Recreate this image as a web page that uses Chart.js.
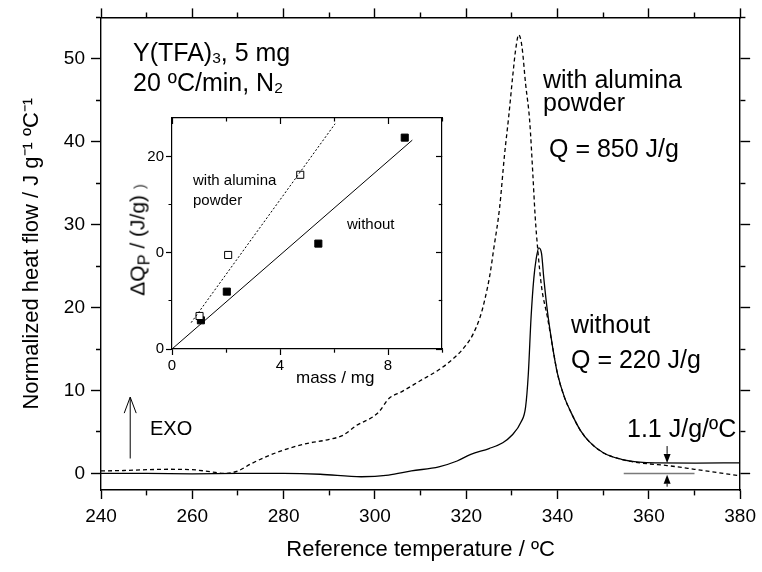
<!DOCTYPE html>
<html>
<head>
<meta charset="utf-8">
<script src="https://cdn.jsdelivr.net/npm/chart.js@4.4.1/dist/chart.umd.min.js"></script>
<style>
  html, body { margin: 0; padding: 0; background: #fff; }
  #wrap { position: relative; width: 762px; height: 572px; overflow: hidden;
          font-family: Arial, "Liberation Sans", Helvetica, sans-serif; color: #000; }
  #wrap canvas { position: absolute; }
  .note { position: absolute; white-space: nowrap; line-height: 1; font-size: 25px; }
  .small { font-size: 15px; }
  .note sub { font-size: 0.62em; vertical-align: -0.12em; line-height: 0; }
  #insetTitle { position: absolute; left: 137px; top: 240px; font-size: 21px; line-height: 1;
                white-space: nowrap; transform: translate(-50%, -50%) rotate(-90deg); }
  #insetTitle sub { font-size: 0.78em; vertical-align: -0.3em; line-height: 0; }
  #insetTitle .tail { font-size: 0.7em; color: #333; }
</style>
</head>
<body>
<div id="wrap">
  <canvas id="mainChart" width="762" height="572" style="left:0;top:0"></canvas>
  <canvas id="insetChart" width="345" height="290" style="left:110px;top:105px"></canvas>

  <div class="note" style="left:133px;top:40px">Y(TFA)<sub>3</sub>, 5 mg</div>
  <div class="note" style="left:133px;top:70px">20 ºC/min, N<sub>2</sub></div>
  <div class="note" style="left:543px;top:67px">with alumina</div>
  <div class="note" style="left:543px;top:90px">powder</div>
  <div class="note" style="left:549px;top:136px">Q = 850 J/g</div>
  <div class="note" style="left:571px;top:312px">without</div>
  <div class="note" style="left:571px;top:347px">Q = 220 J/g</div>
  <div class="note" style="left:627px;top:416px">1.1 J/g/ºC</div>
  <div class="note" style="left:150px;top:418px;font-size:20px">EXO</div>

  <div class="note small" style="left:193px;top:172px">with alumina</div>
  <div class="note small" style="left:193px;top:192px">powder</div>
  <div class="note small" style="left:347px;top:216px">without</div>
  <div class="note" style="left:296px;top:369px;font-size:17px">mass / mg</div>
  <div id="insetTitle">ΔQ<sub>P</sub> / (J/g) <span class="tail">)</span></div>
</div>

<script>
const FONT = 'Arial, "Liberation Sans", Helvetica, sans-serif';

// main DSC curves
const plainTemp = [240, 250, 260, 270, 280, 288, 297, 303, 308, 314, 318, 321, 325, 328, 330, 332,
  333, 333.6, 334.2, 334.8, 335.3, 335.9, 336.5, 337, 337.8, 339, 340, 341.5, 343, 345, 347, 350,
  354, 358, 362, 370, 380];
const plainFlow = [0, 0, -0.05, 0, 0, -0.1, -0.4, -0.2, 0.3, 0.8, 1.5, 2.3, 3.0, 3.7, 4.6, 6.2,
  8.0, 12, 18.8, 23.5, 25.8, 27.2, 26.5, 23.5, 19.5, 15.0, 12.0, 9.2, 7.3, 5.2, 3.8, 2.5,
  1.7, 1.35, 1.27, 1.25, 1.27];

const aluminaTemp = [240, 245, 250, 255, 260, 264, 267, 270, 273, 277, 281, 285, 290, 293, 296,
  299.5, 301, 303, 306, 310, 314, 317.5, 320, 321.5, 323, 324, 325.2, 326, 327.3, 328.4, 329.3,
  330.2, 330.8, 331.5, 332.2, 333, 333.9, 334.6, 335.1, 335.7, 336.5, 337.8, 339, 340, 341.5,
  343, 345, 347, 350, 354, 357, 360, 364, 370, 375, 380];
const aluminaFlow = [0.3, 0.35, 0.45, 0.5, 0.45, 0.2, 0, 0.3, 1.2, 2.2, 3.0, 3.6, 4.1, 4.6, 5.8,
  6.8, 7.5, 9.0, 9.9, 11.2, 12.5, 14.0, 15.5, 16.8, 18.8, 20.8, 24, 27, 32, 38.5, 43,
  48, 51, 52.9, 51.5, 47, 42.5, 36, 31, 26.8, 22.5, 18.8, 15.0, 12.0, 9.2,
  7.3, 5.2, 3.8, 2.5, 1.7, 1.35, 1.15, 0.95, 0.5, 0.1, -0.3];

const xMajor = [240, 260, 280, 300, 320, 340, 360, 380];
const xMinor = [250, 270, 290, 310, 330, 350, 370];
const yMajor = [0, 10, 20, 30, 40, 50];
const yMinor = [5, 15, 25, 35, 45, 55];

// inset: peak enthalpy change against sample mass
const massAlumina = [1.02, 2.08, 4.75];
const dqAlumina = [3.43, 9.77, 18.1];
const massPlain = [1.07, 2.03, 5.42, 8.62];
const dqPlain = [2.98, 5.96, 10.95, 21.96];
const fitPlainMass = [0, 8.9];
const fitPlainDq = [0, 21.7];
const fitAluminaMass = [0.71, 6.04];
const fitAluminaDq = [2.74, 23.4];

const insetXMajor = [0, 4, 8];
const insetXMinor = [2, 6, 10];
const insetYMajor = [0, 10, 20];
const insetYMajorLabels = ['0', '0', '20'];
const insetYMinor = [5, 15];

// annotation marks in data units
const zeroSegment = [354.5, 370];
const stepArrowTemp = 364;
const exoArrow = { temp: 246.4, from: 1.8, to: 9.2 };

const pts = (xs, ys) => xs.map((x, i) => ({ x, y: ys[i] }));

// Chart.js draws a tick starting at its tip for left/top axes and at the border for bottom/right,
// so short minor ticks are made with a dash pattern
function minorDash(position, len, minorLen, major) {
  const tipFirst = position === 'left' || position === 'top';
  const gap = Math.abs(len) - minorLen;
  return ctx => major.includes(ctx.tick.value) ? [] : (tipFirst ? [0, gap, minorLen, 100] : [minorLen, 100]);
}

function axis(position, min, max, major, minor, len, minorLen, size, labels, fontSize, pad, lw) {
  const values = major.concat(minor).sort((a, b) => a - b);
  const horizontal = position === 'top' || position === 'bottom';
  return {
    type: 'linear', position, min, max,
    afterBuildTicks: s => { s.ticks = values.map(v => ({ value: v })); },
    afterFit: s => { if (horizontal) s.height = size; else s.width = size; },
    border: { display: true, color: '#000', width: lw },
    grid: {
      drawOnChartArea: false, drawTicks: true, tickLength: len, tickWidth: lw,
      tickColor: '#000', color: '#000', tickBorderDash: minorDash(position, len, minorLen, major)
    },
    ticks: labels ? {
      display: true, autoSkip: false, maxRotation: 0, color: '#000', padding: pad,
      font: { family: FONT, size: fontSize },
      callback: v => { const i = major.indexOf(v); return i < 0 ? '' : labels[i]; }
    } : { display: false }
  };
}

function drawArrow(ctx, x, yFrom, yTip, len, half, filled) {
  const dir = Math.sign(yTip - yFrom);
  ctx.beginPath();
  ctx.moveTo(x, yFrom);
  ctx.lineTo(x, filled ? yTip - dir * len : yTip);
  ctx.stroke();
  ctx.beginPath();
  ctx.moveTo(x - half, yTip - dir * len);
  ctx.lineTo(x, yTip);
  ctx.lineTo(x + half, yTip - dir * len);
  if (filled) { ctx.closePath(); ctx.fill(); } else ctx.stroke();
}

const markers = {
  id: 'markers',
  afterDatasetsDraw(chart) {
    const { ctx, scales: { x, y } } = chart;
    ctx.save();
    ctx.strokeStyle = '#7a7a7a';
    ctx.lineWidth = 1.5;
    ctx.beginPath();
    ctx.moveTo(x.getPixelForValue(zeroSegment[0]), y.getPixelForValue(0));
    ctx.lineTo(x.getPixelForValue(zeroSegment[1]), y.getPixelForValue(0));
    ctx.stroke();

    ctx.strokeStyle = '#000';
    ctx.fillStyle = '#000';
    ctx.lineWidth = 1;
    const ax = x.getPixelForValue(stepArrowTemp);
    drawArrow(ctx, ax, y.getPixelForValue(3.3), y.getPixelForValue(1.27), 9, 3.5, true);
    drawArrow(ctx, ax, y.getPixelForValue(-1.6), y.getPixelForValue(-0.15), 9, 3.5, true);

    drawArrow(ctx, x.getPixelForValue(exoArrow.temp), y.getPixelForValue(exoArrow.from),
      y.getPixelForValue(exoArrow.to), 16, 6, false);
    ctx.restore();
  }
};

const xLabels = xMajor.map(String);
const yLabels = yMajor.map(String);

const mainScales = {
  x: axis('bottom', 240, 380, xMajor, xMinor, 9, 5, 82, xLabels, 19, 6, 1.4),
  x2: axis('top', 240, 380, xMajor, xMinor, 9, 5, 16, null, 19, 0, 1.4),
  y: axis('left', -2, 55, yMajor, yMinor, 10, 5, 101, yLabels, 19, 6, 1.4),
  y2: axis('right', -2, 55, yMajor, yMinor, 10, 5, 18.5, null, 19, 0, 1.4)
};
mainScales.x.title = { display: true, text: 'Reference temperature / ºC', color: '#000',
  font: { family: FONT, size: 22 }, padding: { top: 0, bottom: 9 } };
mainScales.y.title = { display: true, text: 'Normalized heat flow / J g⁻¹ ºC⁻¹', color: '#000',
  font: { family: FONT, size: 22 }, padding: { top: 19, bottom: 0 } };

new Chart(document.getElementById('mainChart'), {
  type: 'line',
  data: {
    datasets: [
      { data: pts(aluminaTemp, aluminaFlow), borderColor: '#000', borderWidth: 1.3, borderDash: [4, 3],
        pointRadius: 0, cubicInterpolationMode: 'monotone' },
      { data: pts(plainTemp, plainFlow), borderColor: '#000', borderWidth: 1.3,
        pointRadius: 0, cubicInterpolationMode: 'monotone' }
    ]
  },
  options: {
    responsive: false, animation: false, events: [],
    layout: { padding: 0 },
    plugins: { legend: { display: false }, tooltip: { enabled: false } },
    scales: mainScales
  },
  plugins: [markers]
});

new Chart(document.getElementById('insetChart'), {
  type: 'scatter',
  data: {
    datasets: [
      { data: pts(fitAluminaMass, fitAluminaDq), showLine: true, borderColor: '#000', borderWidth: 1,
        borderDash: [2, 2], pointRadius: 0 },
      { data: pts(fitPlainMass, fitPlainDq), showLine: true, borderColor: '#000', borderWidth: 1,
        pointRadius: 0 },
      { data: pts(massAlumina, dqAlumina), pointStyle: 'rect', pointRadius: 5,
        pointBackgroundColor: '#fff', pointBorderColor: '#000', pointBorderWidth: 1 },
      { data: pts(massPlain, dqPlain), pointStyle: 'rect', pointRadius: 5,
        pointBackgroundColor: '#000', pointBorderColor: '#000', pointBorderWidth: 1 }
    ]
  },
  options: {
    responsive: false, animation: false, events: [],
    layout: { padding: 0 },
    plugins: { legend: { display: false }, tooltip: { enabled: false } },
    scales: {
      x: axis('bottom', 0, 10, insetXMajor, insetXMinor, 6, 3.5, 46, insetXMajor.map(String), 15, 2, 1.2),
      x2: axis('top', 0, 10, insetXMajor, insetXMinor, -6, 3.5, 13, null, 15, 0, 1.2),
      y: axis('left', 0, 24, insetYMajor, insetYMinor, 6, 3.5, 62, insetYMajorLabels, 15, 2, 1.2),
      y2: axis('right', 0, 24, insetYMajor, insetYMinor, -6, 3.5, 13, null, 15, 0, 1.2)
    }
  }
});
</script>
</body>
</html>
